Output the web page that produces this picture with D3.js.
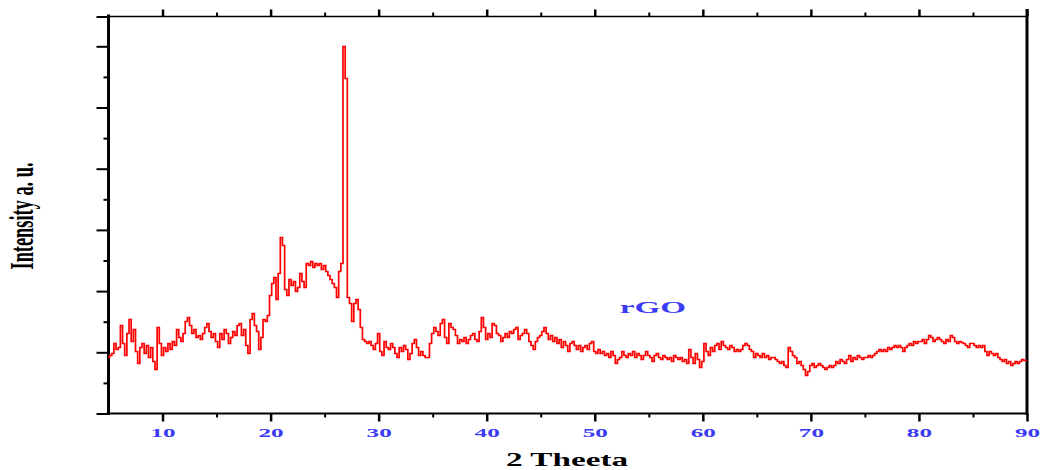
<!DOCTYPE html>
<html><head><meta charset="utf-8">
<script src="https://cdn.jsdelivr.net/npm/d3@7"></script>
<style>body{margin:0;background:#fff} svg{display:block}</style>
</head><body><svg id="c" width="1040" height="470"></svg>
<script>
// ---- data ----
const thetaStart = 5, thetaStep = 0.2;   // 2θ sampling grid (degrees)
const intensity = [
 56,58,60,70,64, 66,88,70,58,80, 94,72,84,62,50, 66,70,60,68,56, 66,52,44,86,70,
 58,66,62,70,64, 72,68,84,76,72, 80,92,96,88,80, 84,76,78,74,80, 86,90,82,76,80,
 72,66,80,74,84, 80,70,76,82,78, 88,90,78,84,68, 60,94,100,88,82, 64,76,94,92,98,
 118,130,136,114,140, 176,168,124,118,134, 128,132,122,126,140, 132,126,150,148,152, 146,150,148,150,144,
 148,142,138,134,130, 126,116,142,150,367, 335,116,110,92,110, 114,104,86,74,72, 70,72,68,64,70,
 80,62,58,72,66, 64,70,66,60,56, 66,62,68,64,54, 60,70,74,66,58, 62,58,56,56,70,
 80,86,82,78,90, 94,76,70,90,86, 84,78,70,74,72, 76,70,74,78,80, 74,72,82,96,86,
 74,80,76,90,88, 80,78,72,76,80, 76,82,80,84,86, 74,78,80,84,80, 72,68,64,72,76,
 78,82,86,80,74, 78,72,76,70,74, 66,72,68,62,70, 72,68,64,68,62, 66,68,64,70,72,
 62,60,64,60,62, 58,60,56,62,58, 50,54,56,62,58, 56,60,58,62,56, 60,58,54,58,62,
 58,56,52,58,60, 56,54,58,56,54, 56,52,58,56,54, 56,52,54,50,64, 56,50,60,54,46,
 52,70,62,58,66, 62,68,70,64,72, 68,66,64,68,66, 62,64,62,64,68, 70,68,64,62,56,
 60,58,56,60,56, 58,54,56,56,54, 52,50,52,48,46, 66,62,58,56,50, 52,48,44,38,42,
 48,50,46,48,50, 48,46,44,46,48, 46,48,52,50,54, 52,50,54,58,52, 56,54,58,56,54,
 56,56,58,56,58, 60,62,64,62,64, 62,66,64,66,68, 66,68,66,62,66, 68,70,68,72,70,
 72,72,74,70,74, 78,76,72,74,76, 74,72,70,74,72, 78,76,72,70,72, 71,70,68,66,70,
 70,68,66,68,66, 68,62,58,62,60, 58,60,56,54,52, 54,50,52,48,50, 52,50,52,54,53,
 53
];
const xMajorTicks = [10,20,30,40,50,60,70,80,90];
const xMinorTicks = [15,25,35,45,55,65,75,85];
const yMajorTicks = [0,61.2,122.4,183.6,244.8,306,367.2];
const yMinorTicks = [30.6,91.8,153,214.2,275.4,336.6];
const yTopTick = [397];
const xLabel = "2 Theeta", yLabel = "Intensity a. u.", seriesLabel = "rGO";

// ---- chart ----
const svg = d3.select("#c");
const x = d3.scaleLinear().domain([5, 90]).range([108.5, 1027]);
const y = d3.scaleLinear().domain([0, 397]).range([413.5, 16.5]);
const pts = intensity.map((v, i) => [thetaStart + i * thetaStep, v]);

const blue = "#3b3bf6";
const serif = "'Liberation Serif','DejaVu Serif',serif";

function styleAxis(g, w) {
  g.select(".domain").remove();
  g.selectAll(".tick line").attr("stroke", "#000").attr("stroke-width", w);
}
// bottom axis
svg.append("g").attr("transform", `translate(0,${y(0)})`)
  .call(d3.axisBottom(x).tickValues(xMajorTicks).tickSize(8).tickPadding(7).tickFormat(d3.format("d")))
  .call(g => styleAxis(g, 2.5))
  .call(g => g.selectAll(".tick text")
     .attr("fill", blue).attr("font-family", serif).attr("font-weight", "bold")
     .attr("font-size", 12).attr("transform", "scale(2.1,1)"));
svg.append("g").attr("transform", `translate(0,${y(0)})`)
  .call(d3.axisBottom(x).tickValues(xMinorTicks).tickSize(4).tickFormat(""))
  .call(g => styleAxis(g, 2));
// top axis
svg.append("g").attr("transform", `translate(0,${y(397)})`)
  .call(d3.axisTop(x).tickValues(xMajorTicks).tickSize(7).tickFormat(""))
  .call(g => styleAxis(g, 2.5));
svg.append("g").attr("transform", `translate(0,${y(397)})`)
  .call(d3.axisTop(x).tickValues(xMinorTicks).tickSize(4).tickFormat(""))
  .call(g => styleAxis(g, 2));
// left axis
svg.append("g").attr("transform", `translate(${x(5)},0)`)
  .call(d3.axisLeft(y).tickValues(yMajorTicks.concat(yTopTick)).tickSize(12).tickFormat(""))
  .call(g => styleAxis(g, 2));
svg.append("g").attr("transform", `translate(${x(5)},0)`)
  .call(d3.axisLeft(y).tickValues(yMinorTicks).tickSize(5).tickFormat(""))
  .call(g => styleAxis(g, 2));

// frame lines
svg.append("line").attr("x1", x(5) - 2).attr("x2", x(90) + 1).attr("y1", y(0)).attr("y2", y(0))
  .attr("stroke", "#000").attr("stroke-width", 2.2);
svg.append("line").attr("x1", x(5)).attr("x2", x(90)).attr("y1", y(397)).attr("y2", y(397))
  .attr("stroke", "#000").attr("stroke-width", 1.6);
svg.append("line").attr("x1", x(5)).attr("x2", x(5)).attr("y1", y(397) - 2).attr("y2", y(0) + 1.5)
  .attr("stroke", "#000").attr("stroke-width", 3);
svg.append("line").attr("x1", x(90)).attr("x2", x(90)).attr("y1", y(397) - 7.5).attr("y2", y(0) + 1.5)
  .attr("stroke", "#000").attr("stroke-width", 3);

// series
svg.append("path").datum(pts)
  .attr("fill", "none").attr("stroke", "#ff0000").attr("stroke-width", 1.7)
  .attr("d", d3.line().curve(d3.curveStep).x(d => x(d[0])).y(d => y(d[1])));

// texts
svg.append("text").attr("transform", "translate(567,466) scale(1.75,1)")
  .attr("text-anchor", "middle").attr("font-family", serif).attr("font-weight", "bold")
  .attr("font-size", 19).attr("fill", "#000").text(xLabel);
svg.append("text").attr("transform", "translate(33,216) scale(1.9,1) rotate(-90)")
  .attr("text-anchor", "middle").attr("font-family", serif).attr("font-weight", "bold")
  .attr("font-size", 18).attr("fill", "#000")
  .attr("textLength", 107).attr("lengthAdjust", "spacingAndGlyphs").text(yLabel);
svg.append("text").attr("transform", "translate(653,313) scale(1.95,1)")
  .attr("text-anchor", "middle").attr("font-family", serif).attr("font-weight", "bold")
  .attr("font-size", 17).attr("fill", blue).text(seriesLabel);
</script></body></html>
